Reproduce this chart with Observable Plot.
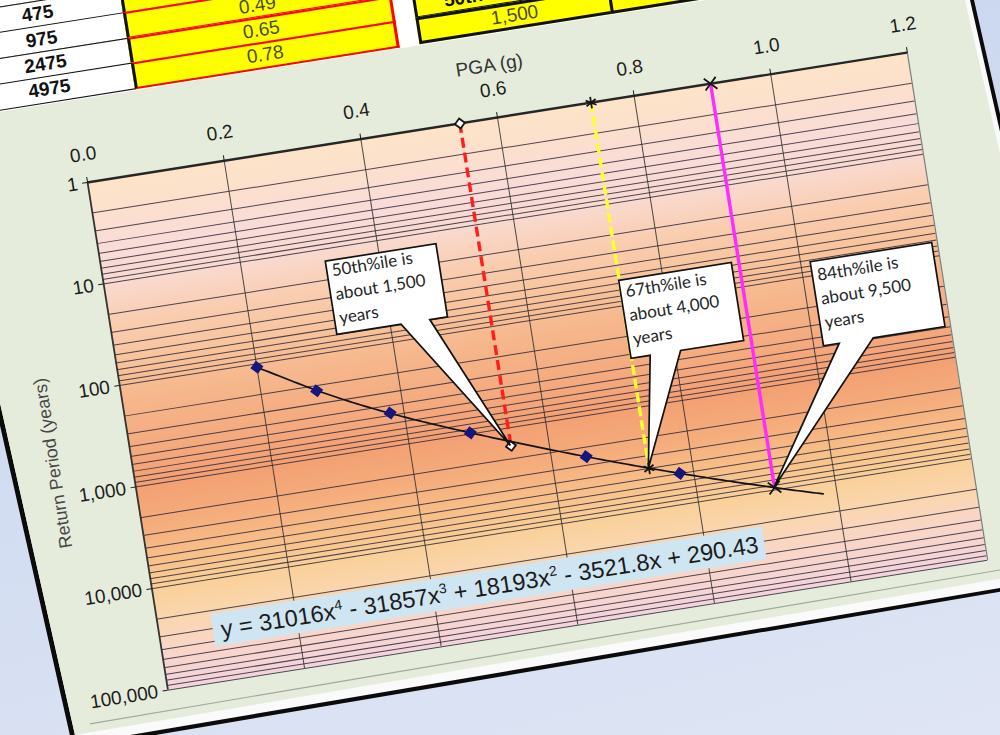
<!DOCTYPE html>
<html>
<head>
<meta charset="utf-8">
<script src="https://cdn.jsdelivr.net/npm/d3@7"></script>
<script src="https://cdn.jsdelivr.net/npm/@observablehq/plot@0.6"></script>
<style>
  body { margin: 0; }
  #stage { position: relative; width: 1000px; height: 735px; overflow: hidden;
           background: linear-gradient(165deg, #c6d3ee 0%, #d1dcf1 45%, #dfe5f4 100%); }
  #paper { position: absolute; left: 0; top: 0; }
  #sheet { position: absolute; left: 87px; top: 182px; width: 0; height: 0;
           transform: rotate(-9deg); transform-origin: 0 0; }
  .cell { position: absolute; box-sizing: border-box; display: flex; align-items: center;
          justify-content: center; font-family: "Liberation Sans", Arial, sans-serif; font-size: 19px; }
</style>
</head>
<body>
<div id="stage">
  <svg id="paper" width="1000" height="735">
    <polygon points="-96,0 974,0 1105,574 73,749" fill="#0b0b0b"/>
    <polygon points="-91,0 970,0 1100,571 77,744" fill="#fafafa"/>
    <polygon points="-91,0 965,0 1093,563 75,735" fill="#e6ecdb"/>
    <line x1="90" y1="723.8" x2="1090" y2="554.8" stroke="#a3a89c" stroke-width="1.2"/>
  </svg>
  <div id="sheet"></div>
</div>
<script>
// ---- data -------------------------------------------------------------
const pgaValues      = [0.20, 0.28, 0.38, 0.49, 0.65, 0.78];     // PGA (g)
const returnPeriods  = [108, 224, 475, 975, 2475, 4975];          // years
const trendCoefficients = [31016, -31857, 18193, -3521.8, 290.43]; // x^4 .. x^0
const trendRange     = [0.20, 0.98];
const percentileNames = ["50th", "67th", "84th"];
const percentilePGA   = [0.545, 0.737, 0.912];
const percentileYears = [1500, 4000, 9500];
const xTickValues = [0, 0.2, 0.4, 0.6, 0.8, 1.0, 1.2];
const yTickValues = [1, 10, 100, 1000, 10000, 100000];
const tableYears = ["", "475", "975", "2475", "4975"];
const tablePGA   = ["", "", "0.49", "0.65", "0.78"];
const summaryHeader = "50th Percentile";
const summaryValue  = "1,500";

// ---- layout / style ---------------------------------------------------
const frameW = 830, frameH = 514;
const M = {left: 80, right: 20, top: 60, bottom: 20};
const pctStyle = [
  {stroke: "#ff1e1e", dash: "10,5", symbol: "diamond2", fill: "#ffffff", r: 4.5},
  {stroke: "#ffff30", dash: "10,4", symbol: "asterisk", fill: "none",    r: 5.5},
  {stroke: "#ff2cff", dash: null,   symbol: "times",    fill: "none",    r: 5.5}
];
// callout boxes, offsets in px from the point they refer to
const calloutLayout = [
  {dx: -154, dy: -211, w: 112, h: 74, base: [0.58, 0.84], first: 16},
  {dx: 0,    dy: -190, w: 114, h: 79, base: [0.17, 0.44], first: 18},
  {dx: 71,   dy: -217, w: 123, h: 85, base: [0.13, 0.41], first: 20}
];
const bandStops = [
  [1, "#fde4c8"], [2, "#fce0cc"], [5, "#f9dbd8"], [10, "#f9dad0"], [25, "#f9cdb0"],
  [60, "#f8c49c"], [150, "#f6b68b"], [500, "#f4a87d"], [1000, "#f3a073"], [2500, "#f5ad7c"],
  [6000, "#f8c28b"], [10000, "#fad098"], [20000, "#fad6ae"], [40000, "#f9d6c6"], [100000, "#f4d4dc"]
];
const equationAnchor = [0.09, 10 ** 4.5];

// ---- derived ----------------------------------------------------------
const poly = x => trendCoefficients.reduce((acc, c) => acc * x + c, 0);
const trendData = d3.range(trendRange[0], trendRange[1] + 1e-9, 0.005).map(x => ({x, y: poly(x)}));
const points = pgaValues.map((x, i) => ({x, y: returnPeriods[i]}));
const gridYears = d3.range(0, 5).flatMap(k => d3.range(1, 10).map(m => m * 10 ** k)).concat([100000]);

function bandFill(index, scales, values, dims) {
  const g = d3.create("svg:g");
  const top = dims.marginTop, bottom = dims.height - dims.marginBottom;
  const lg = g.append("defs").append("linearGradient").attr("id", "bandFill")
    .attr("gradientUnits", "userSpaceOnUse").attr("x1", 0).attr("x2", 0).attr("y1", top).attr("y2", bottom);
  bandStops.forEach(([v, c]) => lg.append("stop")
    .attr("offset", (scales.y(v) - top) / (bottom - top)).attr("stop-color", c));
  g.append("rect").attr("x", dims.marginLeft).attr("y", top)
    .attr("width", dims.width - dims.marginLeft - dims.marginRight).attr("height", bottom - top)
    .attr("fill", "url(#bandFill)");
  return g.node();
}

// "y = a x^4 - b x^3 + ..." written from the trend coefficients
function equationMark(index, scales) {
  const t = d3.create("svg:text").attr("class", "trend-eq")
    .attr("x", scales.x(equationAnchor[0])).attr("y", scales.y(equationAnchor[1]))
    .attr("dy", "0.35em").attr("font-size", 23.5).attr("fill", "#1b1b1b")
    .attr("text-anchor", "start")
    .attr("font-family", '"Liberation Sans", Arial, sans-serif');
  const deg = trendCoefficients.length - 1;
  let raised = false;
  trendCoefficients.forEach((c, i) => {
    const p = deg - i;
    const sign = i === 0 ? (c < 0 ? "-" : "") : (c < 0 ? " - " : " + ");
    const body = (i === 0 ? "y = " : "") + sign + Math.abs(c) + (p >= 1 ? "x" : "");
    const s = t.append("tspan").text(body);
    if (raised) { s.attr("dy", 9); raised = false; }
    if (p >= 2) {
      t.append("tspan").attr("font-size", 14).attr("dy", -9).text(p);
      raised = true;
    }
  });
  return t.node();
}

function calloutMark(index, scales) {
  const g = d3.create("svg:g");
  percentileYears.forEach((yr, i) => {
    const tx = scales.x(percentilePGA[i]), ty = scales.y(yr);
    const L = calloutLayout[i];
    const x0 = tx + L.dx, y0 = ty + L.dy, x1 = x0 + L.w, y1 = y0 + L.h;
    const bl = x0 + L.w * L.base[0], br = x0 + L.w * L.base[1];
    g.append("path")
      .attr("d", `M${x0},${y0}H${x1}V${y1}H${br}L${tx},${ty}L${bl},${y1}H${x0}Z`)
      .attr("fill", "#ffffff").attr("stroke", "#121212").attr("stroke-width", 1.7);
    const lines = [`${percentileNames[i]}%ile is`, `about ${d3.format(",")(yr)}`, "years"];
    const t = g.append("text").attr("font-family", "Lato, 'Open Sans', sans-serif")
      .attr("text-anchor", "start").attr("font-size", 17).attr("fill", "#262626");
    lines.forEach((s, k) => t.append("tspan").attr("x", x0 + 5).attr("y", y0 + L.first + k * 24).text(s));
  });
  return g.node();
}

const percentileMarks = percentilePGA.flatMap((x, i) => {
  const s = pctStyle[i];
  return [
    Plot.ruleX([x], {x: d => d, y1: 1, y2: percentileYears[i], stroke: s.stroke,
                     strokeWidth: 3.4, strokeDasharray: s.dash}),
    Plot.dot([{x, y: 1}, {x, y: percentileYears[i]}], {x: "x", y: "y", symbol: s.symbol, r: s.r,
                     fill: s.fill, stroke: "#151515", strokeWidth: 1.8})
  ];
});

const chart = Plot.plot({
  width: M.left + frameW + M.right,
  height: M.top + frameH + M.bottom,
  marginLeft: M.left, marginRight: M.right, marginTop: M.top, marginBottom: M.bottom,
  style: {background: "transparent", fontFamily: '"Liberation Sans", Arial, sans-serif',
          fontSize: "19px", color: "#1c1c1c", overflow: "visible"},
  x: {domain: [0, 1.2]},
  y: {type: "log", domain: [1, 100000], reverse: true},
  marks: [
    bandFill,
    Plot.ruleY(gridYears, {y: d => d, stroke: "#30293a", strokeWidth: 1, strokeOpacity: 0.85}),
    Plot.ruleX(xTickValues.slice(1, -1), {x: d => d, stroke: "#2e2e2e", strokeWidth: 1, strokeOpacity: 0.85}),
    Plot.ruleX([1.2], {x: d => d, stroke: "#7d7d7d", strokeWidth: 1.2}),
    Plot.ruleX([0], {x: d => d, stroke: "#333333", strokeWidth: 1.8}),
    Plot.ruleY([1], {y: d => d, stroke: "#262626", strokeWidth: 2.4}),
    Plot.axisX({anchor: "top", ticks: xTickValues, tickFormat: d3.format(".1f"),
                tickSize: 6, tickPadding: 16, label: null}),
    Plot.axisY({anchor: "left", ticks: yTickValues, tickFormat: d3.format(","),
                tickSize: 5, tickPadding: 5, label: null}),
    Plot.text(["PGA (g)"], {text: d => d, frameAnchor: "top", dy: -60, fill: "#333333"}),
    Plot.text(["Return Period (years)"], {text: d => d, frameAnchor: "left", dx: -78, dy: 15,
                rotate: -90, textAnchor: "middle", fill: "#474747", fontSize: 18}),
    ...percentileMarks,
    Plot.line(trendData, {x: "x", y: "y", stroke: "#121212", strokeWidth: 1.7}),
    Plot.dot(points, {x: "x", y: "y", symbol: "diamond2", r: 5, fill: "#16167c", stroke: "#16167c"}),
    equationMark,
    calloutMark
  ]
});

// ---- the spreadsheet around the chart ---------------------------------
const sheet = document.getElementById("sheet");
function cell(a, b, w, h, css, text) {
  const d = document.createElement("div");
  d.className = "cell";
  Object.assign(d.style, {left: a + "px", top: b + "px", width: w + "px", height: h + "px"}, css);
  if (text) d.textContent = text;
  sheet.appendChild(d);
  return d;
}
const rowH = 25.4, tableBottom = -85.6;
const rowTop = i => tableBottom - (tableYears.length - i) * rowH;
cell(-400, -420, 1309, 337, {background: "#ffffff"});
tableYears.forEach((v, i) => {
  cell(-108, rowTop(i), 171, rowH + 1.5, {background: "#ffffff", border: "1.8px solid #111",
       fontWeight: "bold", color: "#111"}, v);
  cell(62, rowTop(i), 268, rowH + 1.5, {background: "#ffff00", borderTop: "2.4px solid #f00",
       borderBottom: "2.4px solid #f00", borderRight: "3px solid #f00", borderLeft: "3px solid #111",
       color: "#4a4a1c"}, tablePGA[i]);
});
cell(350, tableBottom - 2 * rowH, 197, rowH + 1.5, {background: "#ffff00", border: "3px solid #111",
     fontWeight: "bold", color: "#111"}, summaryHeader);
cell(350, tableBottom - rowH, 197, rowH + 1.5, {background: "#ffff00", border: "3px solid #111",
     color: "#4a4a1c"}, summaryValue);
cell(544, tableBottom - 2 * rowH, 380, rowH + 1.5, {background: "#ffff00", border: "3px solid #111"});
cell(544, tableBottom - rowH, 380, rowH + 1.5, {background: "#ffff00", border: "3px solid #111"});

const chartW = M.left + frameW + M.right, chartH = M.top + frameH + M.bottom;
Object.assign(chart.style, {position: "absolute", left: -M.left + "px", top: -M.top + "px",
  maxWidth: "none", width: chartW + "px", height: chartH + "px"});
sheet.appendChild(chart);

// light-blue box behind the trendline equation
const eq = chart.querySelector(".trend-eq");
if (eq) {
  const bb = eq.getBBox();
  const r = document.createElementNS("http://www.w3.org/2000/svg", "rect");
  r.setAttribute("x", bb.x - 8); r.setAttribute("y", bb.y - 3);
  r.setAttribute("width", bb.width + 14); r.setAttribute("height", bb.height + 6);
  r.setAttribute("fill", "#cfe5f1");
  eq.parentNode.insertBefore(r, eq);
}
</script>
</body>
</html>
